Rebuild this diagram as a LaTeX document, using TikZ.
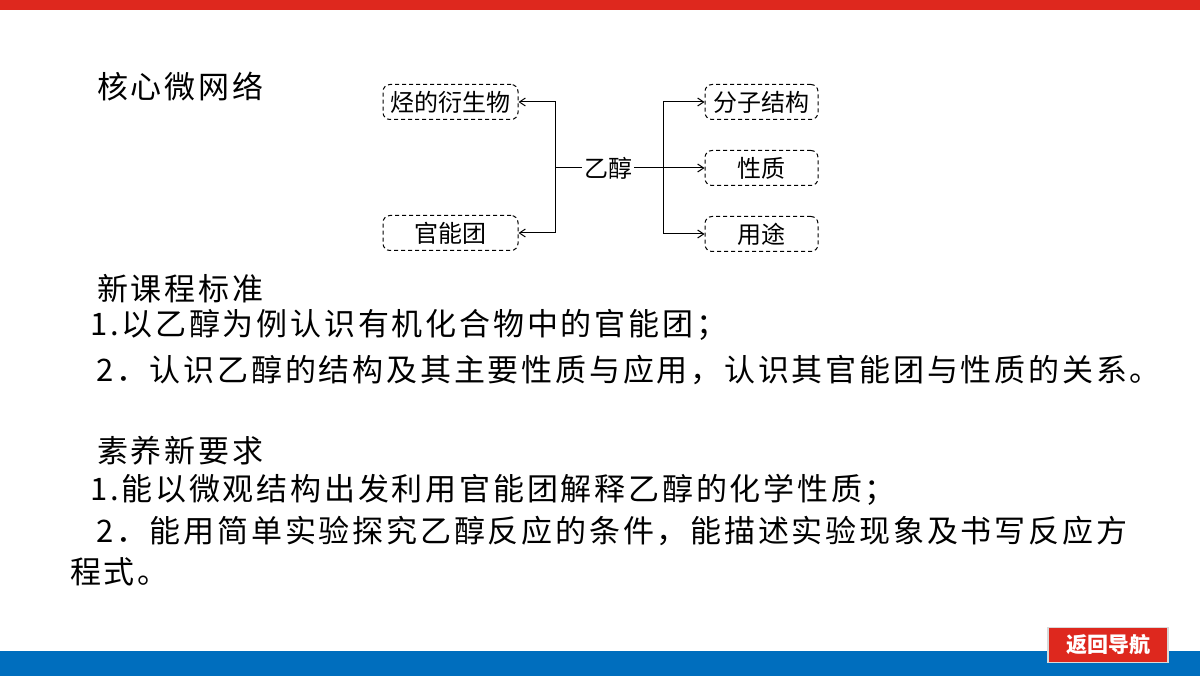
\documentclass[tikz,border=0pt]{standalone}
\usepackage{fontspec}
\setmainfont{Liberation Serif}
\newfontfamily\cjk{Noto Sans CJK SC}
\newfontfamily\cjks[LetterSpace=9]{Noto Sans CJK SC}
\usetikzlibrary{arrows.meta}
\definecolor{topred}{RGB}{222,40,30}
\definecolor{botblue}{RGB}{0,110,190}
\begin{document}
\begin{tikzpicture}[x=1pt,y=-1pt,
  box/.style={draw,dash pattern=on 4pt off 3pt,line width=1pt,rounded corners=7pt,minimum height=35pt,inner sep=0pt,font=\cjk\fontsize{24}{24}\selectfont},
  body/.style={anchor=west,inner sep=0pt,font=\cjks\fontsize{31}{31}\selectfont},
  arr/.style={-{Straight Barb[length=6pt,width=8pt]},line width=1pt}]
\useasboundingbox (0,0) rectangle (1200,676);
\fill[topred] (0,0) rectangle (1200,10);
\fill[botblue] (0,651) rectangle (1200,676);
\node[body] (t1) at (97,87) {核心微网络};
\node[box,minimum width=135pt] (a) at (450.5,102) {烃的衍生物};
\node[box,minimum width=135pt] (b) at (450.5,233) {官能团};
\node[box,minimum width=113pt] (c) at (761.5,102) {分子结构};
\node[box,minimum width=113pt] (d) at (761.5,168) {性质};
\node[box,minimum width=113pt] (e) at (761.5,234) {用途};
\node[inner sep=2pt,font=\cjk\fontsize{24}{24}\selectfont] (m) at (608,168) {乙醇};
\coordinate (lj) at (555,168);
\coordinate (rj) at (663,168);
\draw[line width=1pt] (m.west) -- (lj);
\draw[arr] (lj) |- (a.east);
\draw[arr] (lj) |- (b.east);
\draw[arr] (m.east) -- (d.west);
\draw[arr] (rj) |- (c.west);
\draw[arr] (rj) |- (e.west);
\node[body] (h1) at (97,289) {新课程标准};
\node[body] (l1) at (90,325) {1.以乙醇为例认识有机化合物中的官能团；};
\node[body] (l2) at (96,370) {2．认识乙醇的结构及其主要性质与应用，认识其官能团与性质的关系。};
\node[body] (h2) at (97,451) {素养新要求};
\node[body] (l3) at (90,490) {1.能以微观结构出发利用官能团解释乙醇的化学性质；};
\node[body] (l4) at (96,531) {2．能用简单实验探究乙醇反应的条件，能描述实验现象及书写反应方};
\node[body] (l5) at (70,572) {程式。};
\node[draw=gray!30,line width=1.5pt,fill=topred,text=white,minimum width=120pt,minimum height=35pt,inner sep=0pt,font=\cjk\bfseries\fontsize{21}{21}\selectfont] (btn) at (1108,645) {返回导航};
\end{tikzpicture}
\end{document}
